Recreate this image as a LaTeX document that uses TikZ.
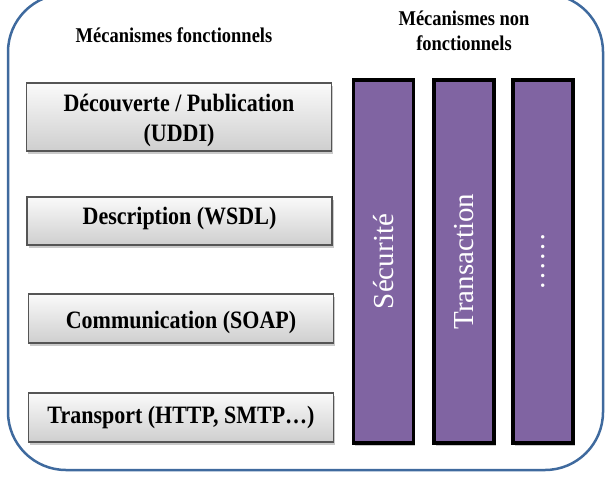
\documentclass[tikz,border=0pt]{standalone}
\usepackage{fontspec}
\setmainfont{Liberation Serif}
\newfontfamily\condserif[FakeStretch=0.88]{Liberation Serif}
\usetikzlibrary{shadows}
\definecolor{framecol}{HTML}{3F6A9E}
\definecolor{purplecol}{HTML}{8064A2}
\definecolor{boxborder}{HTML}{555555}
\begin{document}
\begin{tikzpicture}[x=1pt,y=-1pt,
  layerbox/.style={draw=boxborder,line width=1.2pt,top color=gray!4,bottom color=gray!38,
    minimum width=305pt,inner sep=0pt,
    drop shadow={shadow xshift=1.5pt,shadow yshift=-3pt,opacity=0.35,fill=black!60}},
  boxtext/.style={font=\condserif\fontsize{25}{30}\selectfont\bfseries,align=center},
  column/.style={draw=black,line width=3.5pt,fill=purplecol,minimum width=60pt,minimum height=363pt,
    inner sep=0pt,drop shadow={shadow xshift=1.5pt,shadow yshift=-3pt,opacity=0.35,fill=black!60}},
  coltext/.style={text=white,rotate=90,font=\fontsize{29}{32}\selectfont},
  title/.style={font=\condserif\fontsize{21}{25}\selectfont\bfseries,align=center}]
\useasboundingbox (0,0) rectangle (609,479);
\draw[framecol,line width=2.5pt,rounded corners=58pt] (8,-6) rectangle (603,470);
\node[title] (tf) at (174,35) {Mécanismes fonctionnels};
\node[title] (tnf) at (464,31) {Mécanismes non\\fonctionnels};
\node[layerbox,minimum height=68pt] (b1) at (179,117) {};
\node[boxtext] (t1) at (179,120) {Découverte / Publication\\(UDDI)};
\node[layerbox,minimum height=48pt] (b2) at (179.5,221) {};
\node[boxtext] (t2) at (179.5,218) {Description (WSDL)};
\node[layerbox,minimum height=49pt] (b3) at (181,318.5) {};
\node[boxtext] (t3) at (181,322) {Communication (SOAP)};
\node[layerbox,minimum height=49pt] (b4) at (181,417.5) {};
\node[boxtext] (t4) at (181,417) {Transport (HTTP, SMTP…)};
\node[column] (c1) at (383.5,261.5) {};
\node[column] (c2) at (464,261.5) {};
\node[column] (c3) at (543,261.5) {};
\node[coltext] (s1) at (c1) {Sécurité};
\node[coltext] (s2) at (c2) {Transaction};
\node[coltext] (s3) at (c3) {……};
\end{tikzpicture}
\end{document}
